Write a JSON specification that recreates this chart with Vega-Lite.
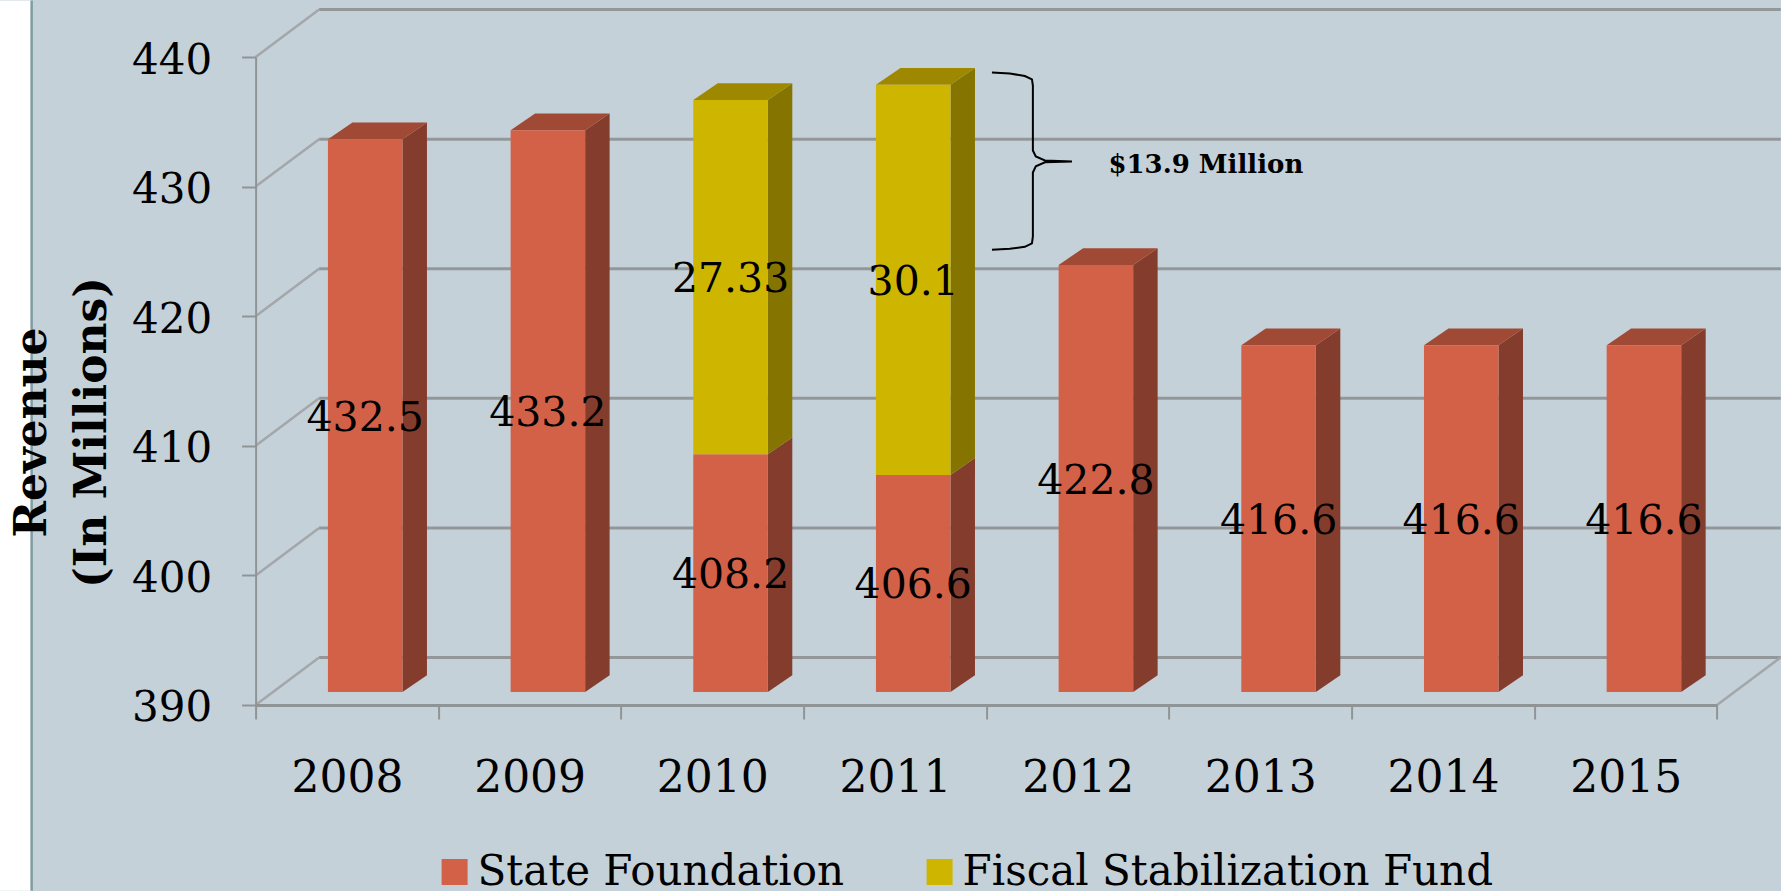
{
"$schema":"https://vega.github.io/schema/vega-lite/v6.json",
"width":1461.4,"height":648,
"autosize":"none",
"padding":{"left":255.6,"top":57,"right":63.6,"bottom":186},
"background":"#c5d1d8",
"config":{"view":{"stroke":null},"font":"DejaVu Serif"},
"datasets":{
"bars":[
{"year":2008,"series":"State Foundation","value":432.5},
{"year":2009,"series":"State Foundation","value":433.2},
{"year":2010,"series":"State Foundation","value":408.2},
{"year":2010,"series":"Fiscal Stabilization Fund","value":27.33},
{"year":2011,"series":"State Foundation","value":406.6},
{"year":2011,"series":"Fiscal Stabilization Fund","value":30.1},
{"year":2012,"series":"State Foundation","value":422.8},
{"year":2013,"series":"State Foundation","value":416.6},
{"year":2014,"series":"State Foundation","value":416.6},
{"year":2015,"series":"State Foundation","value":416.6}],
"ticks":[{"tick":390},{"tick":400},{"tick":410},{"tick":420},{"tick":430},{"tick":440}],
"frame":[{"x0":2006.601,"x1":2006.774,"y0":375.66,"y1":444.36}],
"brace":[
{"x":2012.031,"y":438.80,"n":1},{"x":2012.129,"y":438.73,"n":2},{"x":2012.211,"y":438.53,"n":3},{"x":2012.250,"y":438.27,"n":4},{"x":2012.255,"y":437.80,"n":5},{"x":2012.255,"y":432.79,"n":6},{"x":2012.271,"y":432.33,"n":7},{"x":2012.321,"y":432.02,"n":8},{"x":2012.469,"y":431.94,"n":9},{"x":2012.321,"y":431.87,"n":10},{"x":2012.271,"y":431.56,"n":11},{"x":2012.255,"y":431.09,"n":12},{"x":2012.255,"y":426.16,"n":13},{"x":2012.250,"y":425.62,"n":14},{"x":2012.211,"y":425.35,"n":15},{"x":2012.129,"y":425.20,"n":16},{"x":2012.031,"y":425.12,"n":17}],
"note":[{"x":2013.202,"y":431.63,"label":"$13.9 Million"}]
},
"data":{"name":"bars"},
"transform":[
{"stack":"value","groupby":["year"],"sort":[{"field":"series","order":"descending"}],"as":["s0","s1"]},
{"calculate":"datum.s0>0?datum.s0+1.15:391","as":"base"},
{"calculate":"datum.s1+1.15","as":"top"},
{"calculate":"(datum.base+datum.top)/2","as":"mid"},
{"calculate":"datum.year+0.396","as":"fx0"},
{"calculate":"datum.year+0.804","as":"fx1"},
{"calculate":"datum.year+0.6","as":"cx"}
],
"layer":[
{"data":{"name":"frame"},"transform":[],"mark":{"type":"rect","color":"#ffffff"},
"encoding":{
"x":{"field":"x0","type":"quantitative","scale":{"domain":[2008,2016],"nice":false,"zero":false},
"axis":{"title":null,"values":[2008,2009,2010,2011,2012,2013,2014,2015,2016],"grid":false,"zindex":1,"tickSize":14,"tickWidth":2,"tickColor":"#8f9496","domainColor":"#8f9496","domainWidth":3,"labelOffset":91.35,"labelExpr":"datum.value<2016?format(datum.value,'d'):''","labelFont":"DejaVu Serif","labelFontSize":44,"labelColor":"#000000","labelPadding":38,"labelFlush":false,"labelBound":false,"labelOverlap":false}},
"x2":{"field":"x1"},
"y":{"field":"y0","type":"quantitative","scale":{"domain":[390,440],"nice":false,"zero":false},
"axis":{"title":["Revenue","(In Millions)"],"values":[390,400,410,420,430,440],"grid":false,"zindex":1,"tickSize":14,"tickWidth":2,"tickColor":"#8f9496","domainColor":"#8f9496","domainWidth":2,"labelFont":"DejaVu Serif","labelFontSize":42,"labelColor":"#000000","labelPadding":30,"labelOffset":3,"labelOverlap":false,"labelBound":false,"labelFlush":false,"titleFont":"DejaVu Serif","titleFontWeight":"bold","titleFontSize":44,"titleColor":"#000000","titleAngle":270,"titleLineHeight":60,"titleX":-223,"titleY":375,"titleAlign":"center","titleBaseline":"middle"}},
"y2":{"field":"y1"}}},
{"data":{"name":"frame"},"transform":[],"mark":{"type":"rule","color":"#7f9ca3","strokeWidth":2.5},
"encoding":{
"x":{"field":"x1","type":"quantitative","scale":{"domain":[2008,2016],"nice":false,"zero":false}},
"y":{"field":"y0","type":"quantitative","scale":{"domain":[390,440],"nice":false,"zero":false}},
"y2":{"field":"y1"}}},
{"data":{"name":"ticks"},"transform":[{"calculate":"datum.tick+3.66","as":"by"},{"calculate":"2008.3476","as":"bx0"},{"calculate":"2016.349","as":"bx1"}],
"mark":{"type":"rule","color":"#93979a","strokeWidth":3},
"encoding":{
"x":{"field":"bx0","type":"quantitative","scale":{"domain":[2008,2016],"nice":false,"zero":false}},
"x2":{"field":"bx1"},
"y":{"field":"by","type":"quantitative","scale":{"domain":[390,440],"nice":false,"zero":false}}}},
{"data":{"name":"ticks"},"transform":[{"calculate":"[0,1]","as":"t"},{"flatten":["t"]},{"calculate":"2008+datum.t*0.3476","as":"dx"},{"calculate":"datum.tick+datum.t*3.66","as":"dy"}],
"mark":{"type":"line","color":"#a3a7aa","strokeWidth":2.5},
"encoding":{
"x":{"field":"dx","type":"quantitative","scale":{"domain":[2008,2016],"nice":false,"zero":false}},
"y":{"field":"dy","type":"quantitative","scale":{"domain":[390,440],"nice":false,"zero":false}},
"detail":{"field":"tick"}}},
{"data":{"name":"ticks"},"transform":[{"filter":"datum.tick==390"},{"calculate":"[0,1]","as":"t"},{"flatten":["t"]},{"calculate":"2016+datum.t*0.3476","as":"dx"},{"calculate":"datum.tick+datum.t*3.66","as":"dy"}],
"mark":{"type":"line","color":"#a3a7aa","strokeWidth":2.5},
"encoding":{
"x":{"field":"dx","type":"quantitative","scale":{"domain":[2008,2016],"nice":false,"zero":false}},
"y":{"field":"dy","type":"quantitative","scale":{"domain":[390,440],"nice":false,"zero":false}}}},
{"transform":[{"calculate":"[0,1]","as":"t"},{"flatten":["t"]},{"calculate":"datum.fx1+datum.t*0.134","as":"sx"},{"calculate":"datum.base+datum.t*1.3","as":"sb"},{"calculate":"datum.top+datum.t*1.3","as":"st"}],
"mark":{"type":"area","orient":"vertical"},
"encoding":{
"x":{"field":"sx","type":"quantitative","scale":{"domain":[2008,2016],"nice":false,"zero":false}},
"y":{"field":"sb","type":"quantitative","stack":null,"scale":{"domain":[390,440],"nice":false,"zero":false}},
"y2":{"field":"st"},
"detail":[{"field":"year"},{"field":"series"}],
"color":{"condition":{"test":"datum.series=='Fiscal Stabilization Fund'","value":"#857500"},"value":"#843c2d"}}},
{"transform":[{"joinaggregate":[{"op":"max","field":"s1","as":"maxs"}],"groupby":["year"]},{"filter":"datum.s1==datum.maxs"},{"calculate":"[0,1]","as":"t"},{"flatten":["t"]},{"calculate":"datum.fx0+datum.t*0.134","as":"tx0"},{"calculate":"datum.fx1+datum.t*0.134","as":"tx1"},{"calculate":"datum.top+datum.t*1.3","as":"ty"}],
"mark":{"type":"area","orient":"horizontal"},
"encoding":{
"y":{"field":"ty","type":"quantitative","scale":{"domain":[390,440],"nice":false,"zero":false}},
"x":{"field":"tx0","type":"quantitative","stack":null,"scale":{"domain":[2008,2016],"nice":false,"zero":false}},
"x2":{"field":"tx1"},
"detail":[{"field":"year"},{"field":"series"}],
"color":{"condition":{"test":"datum.series=='Fiscal Stabilization Fund'","value":"#9e8800"},"value":"#a04a35"}}},
{"mark":{"type":"rect"},
"encoding":{
"x":{"field":"fx0","type":"quantitative","scale":{"domain":[2008,2016],"nice":false,"zero":false}},
"x2":{"field":"fx1"},
"y":{"field":"base","type":"quantitative","scale":{"domain":[390,440],"nice":false,"zero":false}},
"y2":{"field":"top"},
"color":{"field":"series","type":"nominal","scale":{"domain":["State Foundation","Fiscal Stabilization Fund"],"range":["#d36148","#cdb500"]},
"legend":{"title":null,"orient":"none","legendX":178,"legendY":794,"direction":"horizontal","columns":2,"columnPadding":74,"symbolType":"square","symbolSize":676,"symbolStrokeWidth":0,"labelFont":"DejaVu Serif","labelFontSize":42,"labelColor":"#000000","labelOffset":2,"labelLimit":700}}}},
{"mark":{"type":"text","font":"DejaVu Serif","fontSize":41,"color":"#000000","align":"center","baseline":"middle","dy":3},
"encoding":{
"x":{"field":"cx","type":"quantitative","scale":{"domain":[2008,2016],"nice":false,"zero":false}},
"y":{"field":"mid","type":"quantitative","scale":{"domain":[390,440],"nice":false,"zero":false}},
"text":{"field":"value","type":"nominal"}}},
{"data":{"name":"brace"},"transform":[],"mark":{"type":"line","color":"#000000","strokeWidth":2},
"encoding":{
"x":{"field":"x","type":"quantitative","scale":{"domain":[2008,2016],"nice":false,"zero":false}},
"y":{"field":"y","type":"quantitative","scale":{"domain":[390,440],"nice":false,"zero":false}},
"order":{"field":"n"}}},
{"data":{"name":"note"},"transform":[],"mark":{"type":"text","font":"DejaVu Serif","fontWeight":"bold","fontSize":26,"color":"#000000","align":"center","baseline":"middle"},
"encoding":{
"x":{"field":"x","type":"quantitative","scale":{"domain":[2008,2016],"nice":false,"zero":false}},
"y":{"field":"y","type":"quantitative","scale":{"domain":[390,440],"nice":false,"zero":false}},
"text":{"field":"label"}}}
]
}
